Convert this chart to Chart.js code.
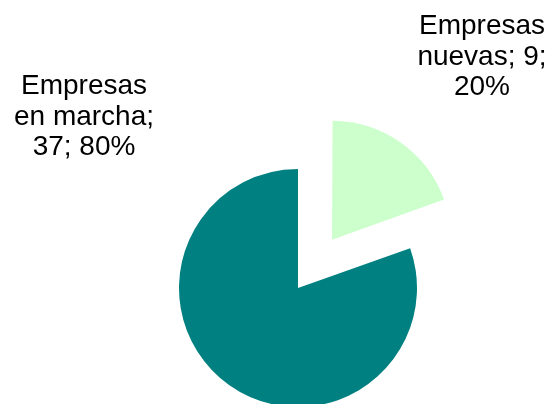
<!DOCTYPE html>
<html>
<head>
<meta charset="utf-8">
<script src="https://cdn.jsdelivr.net/npm/chart.js@4.4.1/dist/chart.umd.min.js"></script>
<style>
  html, body { margin: 0; padding: 0; background: #ffffff; }
  #wrap { width: 552px; height: 404px; position: relative; }
</style>
</head>
<body>
<div id="wrap"><canvas id="c" width="552" height="404"></canvas></div>
<script>
const categories = ["Empresas nuevas", "Empresas en marcha"];
const values = [9, 37];
const percentLabels = ["20%", "80%"];
const sliceColors = ["#CCFFCC", "#008080"];
const sliceOffsets = [236, 0];

// keep exploded slice at the same radius as the others
const radiusFixPlugin = {
  id: 'radiusFix',
  beforeDatasetsDraw(chart) {
    const meta = chart.getDatasetMeta(0);
    const base = meta.controller.outerRadius;
    meta.data.forEach(arc => {
      const off = (arc.options.offset || 0) / 4;
      const fix = 1 - Math.sin(Math.min(Math.PI, arc.circumference || 0));
      arc.outerRadius = base - off * fix;
    });
  }
};

const labelPlugin = {
  id: 'sliceLabels',
  afterDatasetsDraw(chart, args, opts) {
    const ctx = chart.ctx;
    ctx.save();
    ctx.font = opts.font;
    ctx.fillStyle = '#000000';
    ctx.textAlign = 'center';
    ctx.textBaseline = 'alphabetic';
    categories.forEach((cat, i) => {
      const text = cat + '; ' + values[i] + '; ' + percentLabels[i];
      const words = text.split(' ');
      const lines = [];
      let cur = '';
      words.forEach(w => {
        const test = cur ? cur + ' ' + w : w;
        if (cur && ctx.measureText(test).width > opts.maxWidth) {
          lines.push(cur);
          cur = w;
        } else {
          cur = test;
        }
      });
      if (cur) lines.push(cur);
      const pos = opts.positions[i];
      lines.forEach((ln, k) => {
        ctx.fillText(ln, pos.x, pos.y + k * opts.lineHeight);
      });
    });
    ctx.restore();
  }
};

new Chart(document.getElementById('c'), {
  type: 'pie',
  data: {
    labels: categories,
    datasets: [{
      data: values,
      backgroundColor: sliceColors,
      borderWidth: 0,
      offset: sliceOffsets,
      hoverOffset: 0,
      clip: false
    }]
  },
  options: {
    responsive: false,
    animation: false,
    radius: 119,
    cutout: '0%',
    layout: { padding: { left: 44, top: 172, right: 0, bottom: 0 } },
    plugins: {
      legend: { display: false },
      tooltip: { enabled: false },
      sliceLabels: {
        font: '28px "Liberation Sans", Arial, sans-serif',
        maxWidth: 150,
        lineHeight: 30.5,
        positions: [{ x: 482, y: 34 }, { x: 84, y: 94 }]
      }
    }
  },
  plugins: [radiusFixPlugin, labelPlugin]
});
</script>
</body>
</html>
